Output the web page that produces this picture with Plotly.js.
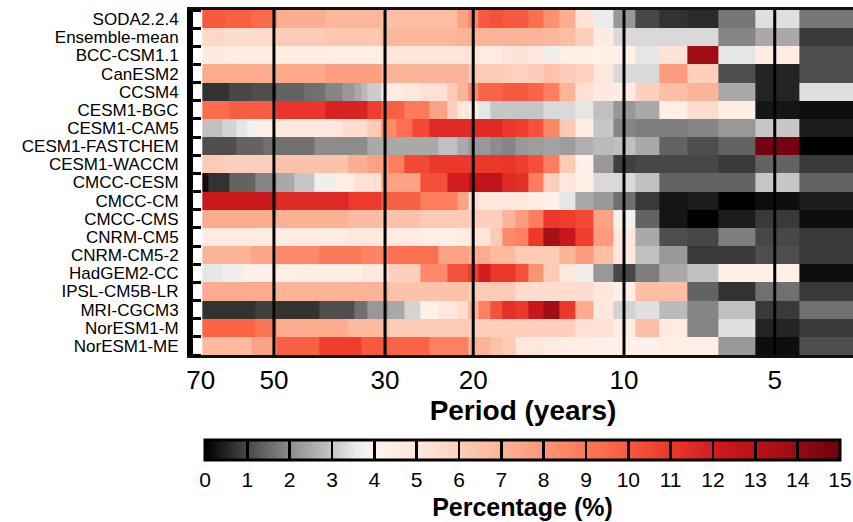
<!DOCTYPE html>
<html>
<head>
<meta charset="utf-8">
<script src="https://cdn.plot.ly/plotly-3.0.1.min.js"></script>
<style>html,body{margin:0;padding:0;background:#fff;}#chart{width:853px;height:522px;}</style>
</head>
<body>
<div id="chart"></div>
<script>
// Periods (years) of the heatmap columns, left to right
const periods = [69,68,67,66,65,64,63,62,61,60,59,58,57,56,55,54,53,52,51,50,
  49,48,47,46,45,44,43,42,41,40,39,38,37,36,35,34,33,32,31,30,
  29,28,27,26,25,24,23,22,21,20,19,18,17,16,15,14,13,12,11,10,9,8,7,6,5,4];

const models = ["SODA2.2.4","Ensemble-mean","BCC-CSM1.1","CanESM2","CCSM4","CESM1-BGC",
  "CESM1-CAM5","CESM1-FASTCHEM","CESM1-WACCM","CMCC-CESM","CMCC-CM","CMCC-CMS","CNRM-CM5",
  "CNRM-CM5-2","HadGEM2-CC","IPSL-CM5B-LR","MRI-CGCM3","NorESM1-M","NorESM1-ME"];

const periodTicks = [70,50,30,20,10,5];
const markedPeriods = [50,30,20,10,5];

// Percentage (%) per period, one array per model (periods 69 -> 4)
const soda = [10,10,10,10,10,10,10, 9.8,9.8,9.8,9.8,9.8,9.8,9.8, 9.5,9.5,9.5,9.5,9.5,9.5,
  7.2,7.2,7.2,7.2,7.2,7.2,7.2,7.2,7.2,7.2, 6.9,6.9,6.9,6.9,6.9,6.9,6.9,6.9,6.9,
  6.6,6.6,6.6,6.6,6.6,6.6,6.6,6.6,6.6,
  7.6,8.5,10,10.2,10,10,9.3,8.2,7.2,5.2,3.6,2.2,1.0,0.7,0.6,1.7,3.4,1.7];
const ensembleMean = [5.7,5.7,5.7,5.7,5.7,5.7,5.7, 5.5,5.5,5.5,5.5,5.5,5.5,5.5, 5.6,5.6,5.6,5.6,5.6,5.6,
  6.1,6.1,6.1,6.1,6.1,6.1,6.1,6.1,6.1,6.1, 6.3,6.3,6.3,6.3,6.3,6.3,6.3,6.3,6.3,
  6.9,6.9,6.9,6.9,6.9,6.9,6.9,6.9,6.9,
  7.0,7.0,7.0,7.0,7.0,7.0,7.0,6.9,6.6,6.0,4.6,3.3,3.3,3.3,3.3,1.9,2.5,0.8];
const bccCsm = [4.7,4.7,4.7,4.7,4.7,4.7,4.7, 4.5,4.5,4.5,4.5,4.5,4.5,4.5, 4.6,4.6,4.6,4.6,4.6,4.6,
  4.5,4.5,4.5,4.5,4.5,4.5,4.5,4.5,4.5,4.5, 4.4,4.4,4.4,4.4,4.4,4.4,4.4,4.4,4.4,
  5.0,5.0,5.0,5.0,5.0,5.0,5.0,5.0,5.0,
  5.0,5.0,4.6,4.6,5.0,5.1,4.8,3.7,4.4,4.4,4.3,4.3,3.5,5.2,13.8,3.5,4.5,1.1];
const canEsm2 = [7.3,7.3,7.3,7.3,7.3,7.3,7.3, 7.3,7.3,7.3,7.3,7.3,7.3,7.3, 7.3,7.3,7.3,7.3,7.3,7.3,
  7.4,7.4,7.4,7.4,7.4,7.4,7.4,7.4,7.4,7.4, 7.7,7.7,7.7,7.7,7.7,7.7,7.7,7.7,7.7,
  7.0,7.0,7.0,7.0,7.0,7.0,7.0,7.0,7.0,
  7.0,6.3,6.2,6.2,6.0,5.9,6.1,6.5,6.1,5.9,4.9,3.3,3.3,7.8,6.0,1.1,0.5,1.1];
const ccsm4 = [0.7,0.7,0.7,0.7,0.7,0.7,0.7,0.7, 1.0,1.0,1.0,1.0,1.0,1.0, 1.1,1.1,1.1,1.1,1.1,1.1,
  1.4,1.4,1.4,1.4,1.4,1.4, 1.6,1.6,1.6,1.6, 1.9,1.9,1.9, 2.2,2.2, 2.5, 2.8, 3.1,3.1, 3.7,
  4.5,4.5, 4.8,4.8, 5.3,5.3,5.3, 6.2,
  7.0,8.4,9.7,9.7,10.0,10.0,9.7,8.8,7.0,5.3,4.7,4.6,6.0,6.6,7.0,2.5,0.5,3.4];
const cesmBgc = [9.4,9.4,9.4,9.4,9.4,9.4,9.4,9.4, 9.9,9.9,9.9,9.9,9.9,9.9,9.9,9.9,9.9,9.9,9.9,9.9,
  11.1,11.1,11.1,11.1,11.1,11.1,11.1,11.1,11.1,11.1, 11.8,11.8,11.8,11.8,11.8,11.8,11.8,
  10.8,10.8, 9.8,9.8,9.8, 8.9,8.9,8.9, 7.6,7.6, 6.0,
  4.9,4.5,3.5,3.0,3.0,3.0,3.0,3.3,3.3,3.5,2.9,2.2,2.5,4.4,5.5,4.5,0.3,0.2];
const cesmCam5 = [2.9,2.9,2.9,2.9,2.9,2.9, 3.2,3.2,3.2,3.2, 3.5,3.5,3.5, 3.8,3.8,3.8, 4.4,4.4,4.4,4.4,
  4.9,4.9,4.9,4.9,4.9,4.9,4.9,4.9,4.9,4.9,4.9,4.9,4.9, 5.5,5.5,5.5,5.5, 6.2,6.2,
  8.4,8.4, 9.3,9.3, 10.5,10.5, 11.5,11.5,11.5,
  11.5,11.5,11.5,11.5,11.0,10.8,10.2,8.5,6.2,4.5,3.0,1.9,1.8,1.8,1.9,2.2,3.0,0.4];
const cesmFastchem = [1.1,1.1,1.1,1.1,1.1,1.1,1.1,1.1,1.1,1.1, 1.4,1.4,1.4,1.4,1.4,1.4,1.4, 1.6,1.6,1.6,
  1.6,1.6,1.6,1.6,1.6,1.6,1.6,1.6, 2.0,2.0,2.0,2.0,2.0,2.0,2.0,2.0,2.0, 2.5,2.5,2.5,
  2.5,2.5,2.5,2.5,2.5,2.5, 2.9,2.9,
  2.5,2.2,2.2,2.0,1.9,2.2,2.3,2.4,2.3,2.6,2.8,2.9,2.5,1.4,1.1,1.4,14.8,0];
const cesmWaccm = [6.2,6.2,6.2,6.2,6.2,6.2, 6.0,6.0,6.0,6.0,6.0,6.0,6.0,6.0,6.0,6.0,6.0,6.0,6.0,6.0,
  6.5,6.5,6.5,6.5,6.5,6.5,6.5,6.5,6.5,6.5,6.5,6.5,6.5,6.5, 7.2,7.2,7.2, 7.6,7.6,7.6,
  8.8,8.8, 10.5,10.5,10.5, 11.0,11.0,11.0,
  11.0,11.0,11.0,11.0,11.1,10.8,10.3,8.8,6.2,4.2,2.2,0.9,1.0,1.0,1.0,0.8,1.4,0.8];
const cmccCesm = [0.2,0.2, 0.7,0.7,0.7,0.7,0.7,0.7, 1.4,1.4,1.4,1.4,1.4,1.4,1.4, 1.9,1.9,1.9,1.9,1.9,
  2.5,2.5,2.5,2.5, 3.0,3.0,3.0,3.0, 3.7,3.7,3.7,3.7, 4.4,4.4,4.4, 5.3,5.3,5.3,5.3,
  7.6,7.6,7.6,7.6,7.6, 10.3,10.3,10.3, 12.0,
  12.0,12.7,12.7,12.7,11.5,11.3,8.8,6.0,4.9,4.4,3.3,3.3,2.9,1.4,1.4,1.4,3.0,1.4];
const cmccCm = [12.3,12.3,12.3,12.3,12.3,12.3,12.3,12.3,12.3,12.3,12.3,12.3,12.3,12.3,12.3,12.3,12.3,12.3,12.3,12.3,
  11.5,11.5,11.5,11.5,11.5,11.5,11.5,11.5,11.5,11.5,11.5,11.5,11.5,11.5, 10.9,10.9,10.9,10.9,10.9,
  9.8,9.8,9.8,9.8,9.8, 8.8,8.8,8.8,8.8,
  7.6,5.5,4.8,4.8,4.8,4.8,4.5,4.2,3.5,2.5,2.2,1.6,0.8,0.3,0.4,0,0.2,0.4];
const cmccCms = [7.3,7.3,7.3,7.3,7.3,7.3,7.3,7.3,7.3,7.3,7.3,7.3,7.3,7.3,7.3,7.3,7.3,7.3,7.3,7.3,
  7.1,7.1,7.1,7.1,7.1,7.1,7.1,7.1,7.1,7.1,7.1,7.1,7.1,7.1, 6.7,6.7,6.7,6.7,6.7,
  6.5,6.5,6.5,6.5,6.5, 6.2,6.2,6.2,6.2,
  6.2,6.0,6.0,6.0,7.0,7.8,8.8,11.0,10.8,10.5,7.6,3.8,1.4,0.3,0,0.4,0.8,0.2];
const cnrmCm5 = [4.6,4.6,4.6,4.6,4.6,4.6,4.6,4.6,4.6,4.6,4.6,4.6,4.6,4.6,4.6,4.6,4.6,4.6,4.6,4.6,
  4.6,4.6,4.6,4.6,4.6,4.6,4.6,4.6,4.6,4.6,4.6,4.6,4.6,4.6, 4.8,4.8,4.8,4.8,4.8,
  4.6,4.6,4.6,4.6,4.6, 4.4,4.4,4.4,4.4,
  4.5,5.0,5.0,6.2,8.4,8.7,11.0,13.6,12.4,10.8,7.8,4.9,2.5,1.1,1.0,1.8,1.0,0.8];
const cnrmCm52 = [7.0,7.0,7.0,7.0,7.0,7.0,7.0,7.0,7.0,7.0,7.0,7.0,7.0,7.0, 7.5,7.5,7.5,7.5,7.5,7.5,
  8.4,8.4,8.4,8.4,8.4,8.4,8.4,8.4,8.4, 9.0,9.0,9.0,9.0,9.0,9.0,9.0, 8.6,8.6,8.6,8.6,
  9.3,9.3,9.3,9.3,9.3,9.3, 7.6,7.6,
  7.6,7.3,7.3,6.8,6.8,6.2,6.2,6.2,7.0,7.8,6.6,4.8,2.9,2.2,0.8,0.8,1.1,0.8];
const hadGem2Cc = [3.5,3.5,3.5,3.5,3.5,3.5, 3.7,3.7,3.7,3.7,3.7,3.7, 4.2,4.2,4.2,4.2,4.2,4.2,4.2,4.2,
  4.4,4.4,4.4,4.4,4.4,4.4,4.4,4.4,4.4,4.4,4.4,4.4,4.4,4.4,4.4,4.4, 4.8,4.8,4.8,4.8,
  6.0,6.0,6.0,6.0, 8.4,8.4,8.4, 10.2,
  10.2,10.8,12.0,11.0,11.0,10.2,8.1,6.2,4.8,3.7,2.2,1.0,1.8,2.5,2.9,4.4,4.4,0.2];
const ipslCm5bLr = [7.3,7.3,7.3,7.3,7.3,7.3,7.3,7.3,7.3,7.3,7.3,7.3,7.3,7.3,7.3,7.3,7.3,7.3,7.3,7.3,
  7.0,7.0,7.0,7.0,7.0,7.0,7.0,7.0,7.0,7.0,7.0,7.0,7.0,7.0,7.0,7.0,7.0,7.0,7.0,7.0,
  6.5,6.5,6.5,6.5,6.5,6.5,6.5,6.5,
  6.5,6.2,6.2,6.2,6.2,5.5,5.5,5.5,5.5,5.5,4.8,4.4,6.6,6.6,1.4,0.7,1.6,0.8];
const mriCgcm3 = [0.7,0.7,0.7,0.7,0.7,0.7,0.7,0.7,0.7,0.7,0.7,0.7,0.7,0.7,0.7, 0.9,0.9,0.9,0.9,0.9,
  0.7,0.7,0.7,0.7,0.7,0.7,0.7,0.7,0.7, 1.1,1.1,1.1,1.1,1.1,1.1, 1.6,1.6, 2.2,2.2,2.2,
  2.5,2.5, 3.2,3.2, 4.2,4.2, 4.9,4.9,
  5.5,7.0,8.7,10.2,11.3,11.0,12.4,13.7,11.0,7.3,4.8,3.2,3.4,2.8,1.9,2.9,0.8,1.6];
const norEsm1M = [9.7,9.7,9.7,9.7,9.7,9.7,9.7,9.7,9.7,9.7,9.7,9.7,9.7,9.7,9.7, 9.1,9.1,9.1,9.1,9.1,
  7.3,7.3,7.3,7.3,7.3,7.3,7.3,7.3,7.3,7.3,7.3,7.3,7.3,7.3, 6.8,6.8,6.8,6.8,6.8,6.8,
  6.2,6.2,6.2,6.2,6.2,6.2,6.2,6.2,
  6.2,6.0,6.0,6.0,6.0,6.0,6.0,6.0,6.0,5.3,5.3,4.5,6.6,4.6,1.9,3.4,0.5,0.8];
const norEsm1Me = [6.8,6.8,6.8,6.8,6.8,6.8,6.8,6.8,6.8,6.8,6.8,6.8,6.8,6.8, 7.6,7.6,7.6,7.6,7.6,7.6,
  9.8,9.8,9.8,9.8,9.8,9.8,9.8,9.8,9.8, 10.8,10.8,10.8,10.8,10.8,10.8,10.8, 10.0,10.0,10.0,10.0,
  9.7,9.7,9.7,9.7,9.7, 8.7,8.7,8.7,
  8.7,7.0,7.0,6.5,6.2,4.8,4.8,4.6,4.4,4.4,4.2,4.2,4.2,4.4,4.4,2.2,0.2,1.1];

const z = [soda, ensembleMean, bccCsm, canEsm2, ccsm4, cesmBgc, cesmCam5, cesmFastchem,
  cesmWaccm, cmccCesm, cmccCm, cmccCms, cnrmCm5, cnrmCm52, hadGem2Cc, ipslCm5bLr,
  mriCgcm3, norEsm1M, norEsm1Me];

// cell edges between integer periods (geometric midpoints, for the log axis)
const n = periods.length;
const edges = [Math.sqrt(periods[0] * (periods[0] + 1))];
for (let i = 1; i < n; i++) edges.push(Math.sqrt(periods[i - 1] * periods[i]));
edges.push(Math.sqrt(periods[n - 1] * (periods[n - 1] - 1)));

const rowIdx = models.map((m, i) => i);

const colorscale = [
  [0, '#000000'], [1/15, '#474747'], [2/15, '#8c8c8c'], [3/15, '#c6c6c6'], [3.6/15, '#ececec'],
  [4/15, '#fff4ee'], [5.375/15, '#fee0d2'], [6.75/15, '#fcbba1'], [8.125/15, '#fc9272'],
  [9.5/15, '#fb6a4a'], [10.875/15, '#ef3b2c'], [12.25/15, '#cb181d'], [13.625/15, '#a50f15'],
  [1, '#6d0010']
];

const narrow = 'Liberation Sans Narrow, Arial Narrow, Liberation Sans, Arial, sans-serif';
const sans = 'Liberation Sans, Arial, sans-serif';

const trace = {
  type: 'heatmap',
  x: edges,
  y: rowIdx,
  z: z,
  zmin: 0, zmax: 15,
  colorscale: colorscale,
  hoverongaps: false,
  colorbar: {
    orientation: 'h',
    x: 0.4992, xanchor: 'center',
    y: -0.2428, yanchor: 'top',
    len: 635, lenmode: 'pixels',
    thickness: 20,
    xpad: 0, ypad: 0,
    outlinewidth: 3, outlinecolor: '#000',
    tickmode: 'linear', tick0: 0, dtick: 1,
    ticks: 'inside', ticklen: 20, tickwidth: 2.5, tickcolor: '#000',
    tickfont: {family: narrow, size: 21, color: '#000'},
    title: {text: 'Percentage (%)', side: 'bottom', font: {family: narrow, size: 25, color: '#000', weight: 700}}
  }
};

const shapes = markedPeriods.map(p => ({
  type: 'line', xref: 'x', yref: 'paper', x0: p, x1: p, y0: 0, y1: 1,
  line: {color: '#000', width: 3}, layer: 'above'
}));

const layout = {
  width: 853, height: 522,
  margin: {l: 193, r: 0, t: 10, b: 166, pad: 0},
  paper_bgcolor: '#fff', plot_bgcolor: '#fff',
  showlegend: false,
  xaxis: {
    type: 'log', range: [1.8606, 0.5427],
    tickmode: 'array', tickvals: periodTicks, ticktext: periodTicks.map(String),
    ticks: '', showgrid: false, zeroline: false,
    showline: true, linecolor: '#111', linewidth: 3, mirror: true,
    tickfont: {family: narrow, size: 26, color: '#000'},
    title: {text: 'Period (years)', standoff: 6, font: {family: narrow, size: 28, color: '#000', weight: 700}}
  },
  yaxis: {
    range: [18.5, -0.5],
    tickmode: 'array', tickvals: rowIdx, ticktext: models,
    ticks: '', showgrid: false, zeroline: false,
    showline: true, linecolor: '#000', linewidth: 6, mirror: false,
    tickfont: {family: sans, size: 17, color: '#000'},
    ticklabelstandoff: 5,
    minor: {tick0: 0.5, dtick: 1, ticks: 'inside', ticklen: 8, tickwidth: 3, tickcolor: '#000', showgrid: false}
  },
  shapes: shapes
};

Plotly.newPlot('chart', [trace], layout, {displayModeBar: false, staticPlot: true});
</script>
</body>
</html>
